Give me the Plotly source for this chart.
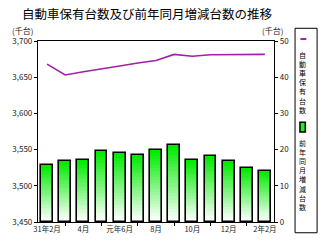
import plotly.graph_objects as go

months = ["31年2月", "3月", "4月", "5月", "元年6月", "7月", "8月", "9月",
          "10月", "11月", "12月", "1月", "2年2月"]
holdings = [3668, 3653, 3657.5, 3661, 3665.5, 3669.5, 3673, 3681.5,
            3679, 3681, 3681.5, 3681.5, 3681.5]          # 千台 (left axis)
yoy_change = [15.7, 16.8, 17.2, 19.5, 19.2, 18.6, 19.9, 21.3,
              17.2, 18.3, 16.8, 15.0, 14.2]              # 千台 (right axis)
tick_idx = [0, 2, 4, 6, 8, 10, 12]
legend_names = ["自動車保有台数", "前年同月増減台数"]

FONT = "Noto Sans CJK JP"
W, H = 324, 246
L, R, T, B = 33, 50, 41, 20
PW, PH = W - L - R, H - T - B

def px_x(x):
    return (x - L) / PW

def px_y(y):
    return (H - B - y) / PH

x = list(range(len(months)))
fig = go.Figure()

# gradient bars: green at top fading to white at the bottom
N = 24
g0 = (0, 235, 0)
for k in range(N):
    f = k / (N - 1)
    col = tuple(int(round(c + (255 - c) * f)) for c in g0)
    fig.add_trace(go.Bar(
        x=x, y=[v * (N - k) / N for v in yoy_change], yaxis="y2",
        marker=dict(color="rgb(%d,%d,%d)" % col, line=dict(width=0)),
        width=0.65, showlegend=False, hoverinfo="skip"))
fig.add_trace(go.Bar(
    x=x, y=yoy_change, yaxis="y2", name=legend_names[1],
    marker=dict(color="rgba(0,0,0,0)", line=dict(color="black", width=1.6)),
    width=0.65, showlegend=False))

fig.add_trace(go.Scatter(
    x=x, y=holdings, mode="lines", name=legend_names[0],
    line=dict(color="#a020a8", width=1.6), showlegend=False))

fig.update_layout(
    width=W, height=H, margin=dict(l=L, r=R, t=T, b=B),
    paper_bgcolor="white", plot_bgcolor="white",
    barmode="overlay", bargap=0,
    font=dict(family=FONT, size=8, color="#222"),
    xaxis=dict(range=[-0.5, 12.5], tickmode="array", tickvals=tick_idx,
               ticktext=[months[i] for i in tick_idx], ticks="",
               showline=True, linecolor="black", linewidth=1.2, mirror=True,
               showgrid=False, zeroline=False, tickfont=dict(size=7.5),
               minor=dict(tickmode="array", tickvals=[1, 3, 5, 7, 9, 11],
                          ticks="outside", ticklen=3, tickcolor="black")),
    yaxis=dict(range=[3450, 3700], dtick=50, tickformat=",",
               ticks="outside", ticklen=3, tickcolor="black",
               showline=True, linecolor="black", linewidth=1.2,
               showgrid=False, zeroline=False, tickfont=dict(size=8)),
    yaxis2=dict(range=[0, 50], dtick=10, overlaying="y", side="right",
                ticks="outside", ticklen=3, tickcolor="black",
                showline=True, linecolor="black", linewidth=1.2,
                showgrid=False, zeroline=False, tickfont=dict(size=8)),
)

ann = [
    dict(text="自動車保有台数及び前年同月増減台数の推移", x=px_x(145), y=px_y(13),
         font=dict(size=12.5, color="black")),
    dict(text="(千台)", x=px_x(17), y=px_y(30), font=dict(size=8)),
    dict(text="(千台)", x=px_x(272), y=px_y(30), font=dict(size=8)),
    dict(text="<br>".join(legend_names[0]), x=px_x(303.5), y=px_y(83),
         font=dict(size=7, color="black")),
    dict(text="<br>".join(legend_names[1]), x=px_x(303.5), y=px_y(177.5),
         font=dict(size=7, color="black")),
]
for a in ann:
    a.update(xref="paper", yref="paper", showarrow=False,
             xanchor="center", yanchor="middle")
fig.update_layout(annotations=ann)

fig.update_layout(shapes=[
    dict(type="rect", xref="paper", yref="paper", x0=px_x(295.5), x1=px_x(318),
         y0=px_y(237), y1=px_y(28), line=dict(color="black", width=1)),
    dict(type="line", xref="paper", yref="paper", x0=px_x(301), x1=px_x(307),
         y0=px_y(39), y1=px_y(39), line=dict(color="#a020a8", width=2)),
    dict(type="rect", xref="paper", yref="paper", x0=px_x(300.5), x1=px_x(306),
         y0=px_y(134), y1=px_y(124), fillcolor="rgb(40,235,40)",
         line=dict(color="black", width=1.5)),
])

fig.write_html("out.html")
